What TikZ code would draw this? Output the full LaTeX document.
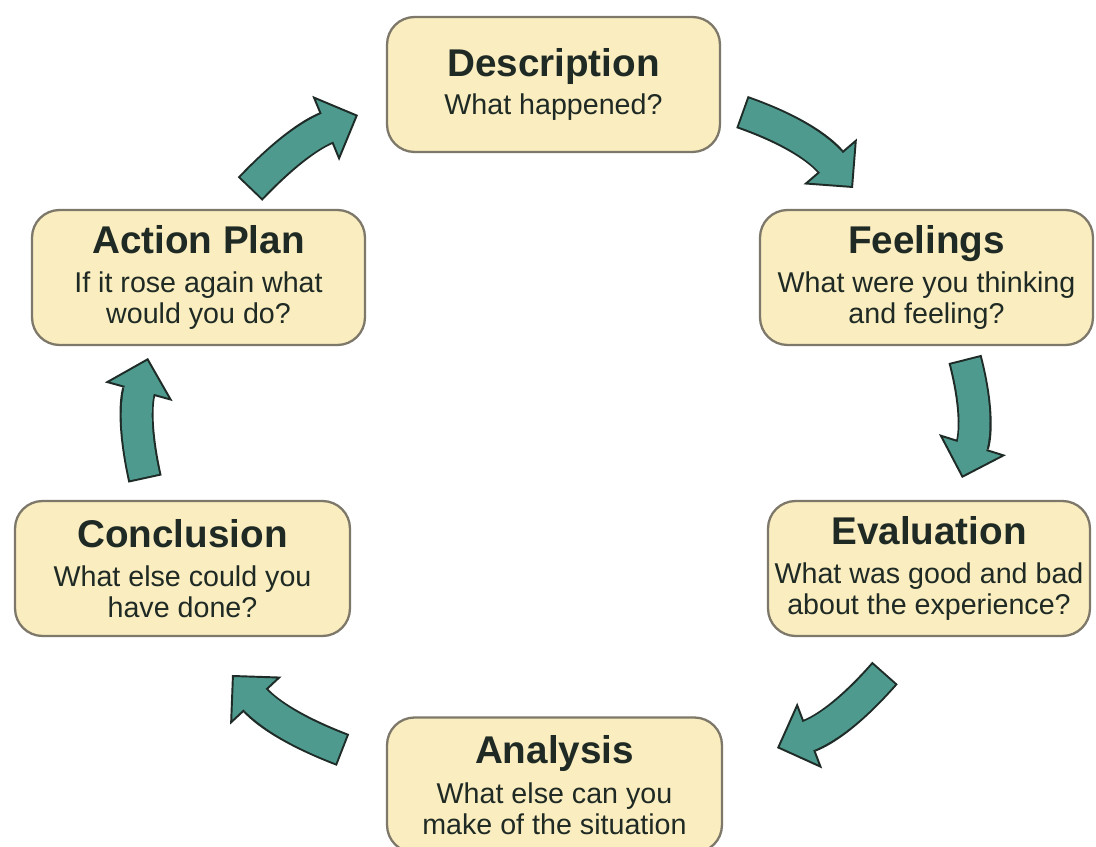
\documentclass[tikz,border=0pt]{standalone}
\usepackage{fontspec}
\setmainfont{Liberation Sans}
\usetikzlibrary{arrows.meta}
\definecolor{boxfill}{HTML}{FAEDC0}
\definecolor{boxline}{HTML}{7D7869}
\definecolor{boxtext}{HTML}{1F2A24}
\definecolor{cycteal}{HTML}{4E9A8E}
\definecolor{cycdark}{HTML}{1E2B27}
\newcommand\stagetitle[1]{{\fontsize{22}{26}\selectfont\bfseries #1}}

\begin{document}
\begin{tikzpicture}[x=0.02cm,y=0.02cm,
  stage node/.style={draw=boxline,line width=1.3pt,fill=boxfill,rounded corners=0.55cm,minimum width=6.66cm,minimum height=2.7cm,inner sep=2pt,align=center,text=boxtext,font=\fontsize{16.3}{17.5}\selectfont},
  arrow outer/.style={draw=cycdark,line width=0.68cm,-{Triangle[width=1.4cm,length=0.7cm,line width=1.1pt,fill=cycteal]}},
  arrow inner/.style={draw=cycteal,line width=0.6cm,shorten <=0.04cm,shorten >=0.62cm}]

            \useasboundingbox (0,0) rectangle (1096,846);
            \fill[white] (0,0) rectangle (1096,846);

            \node[stage node] (desc) at (553.5,761.5) {\stagetitle{Description}\\[4pt] What happened?};
            \node[stage node] (feel) at (926.5,568.5) {\stagetitle{Feelings}\\[5pt] What were you thinking\\ and feeling?};
            \node[stage node,minimum width=6.44cm] (eval) at (929,277.5) {\stagetitle{Evaluation}\\[5pt] What was good and bad\\ about the experience?};
            \node[stage node,minimum width=6.7cm] (anal) at (554.5,61) {\stagetitle{Analysis}\\[5pt] What else can you\\ make of the situation};
            \node[stage node,minimum width=6.7cm] (concl) at (182.5,277.5) {\stagetitle{Conclusion}\\[5pt] What else could you\\ have done?};
            \node[stage node] (plan) at (198.5,568.5) {\stagetitle{Action Plan}\\[5pt] If it rose again what\\ would you do?};

            \coordinate (descout) at (742,734);
            \coordinate (feelin) at (853,658);
            \coordinate (feelout) at (965,487);
            \coordinate (evalin) at (962,368);
            \coordinate (evalout) at (885,173);
            \coordinate (analin) at (777,98);
            \coordinate (analout) at (343,96);
            \coordinate (conclin) at (232,171);
            \coordinate (conclout) at (145,367);
            \coordinate (planin) at (148,488);
            \coordinate (planout) at (250,657);
            \coordinate (descin) at (358,731);

            \draw[arrow outer] (descout) to[bend left=15] (feelin);
            \draw[arrow inner] (descout) to[bend left=15] (feelin);
            \draw[arrow outer] (feelout) to[bend left=16] (evalin);
            \draw[arrow inner] (feelout) to[bend left=16] (evalin);
            \draw[arrow outer] (evalout) to[bend left=14] (analin);
            \draw[arrow inner] (evalout) to[bend left=14] (analin);
            \draw[arrow outer] (analout) to[bend left=13] (conclin);
            \draw[arrow inner] (analout) to[bend left=13] (conclin);
            \draw[arrow outer] (conclout) to[bend left=14] (planin);
            \draw[arrow inner] (conclout) to[bend left=14] (planin);
            \draw[arrow outer] (planout) to[bend left=12] (descin);
            \draw[arrow inner] (planout) to[bend left=12] (descin);

        \end{tikzpicture}
\end{document}
